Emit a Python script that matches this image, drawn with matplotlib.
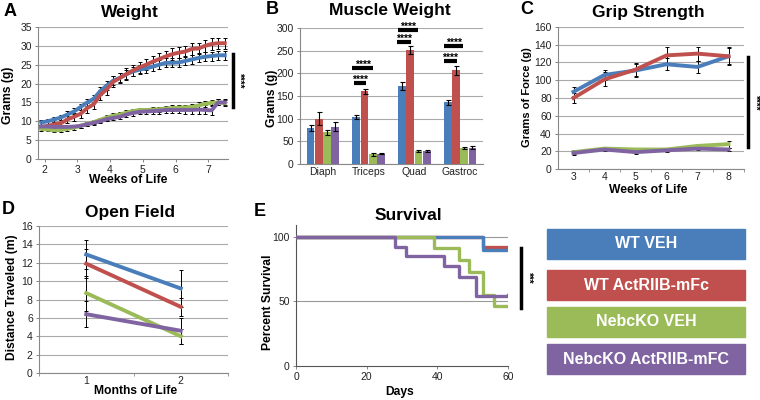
import matplotlib
matplotlib.use("Agg")
import matplotlib.pyplot as plt
import numpy as np
from matplotlib.patches import Rectangle

plt.rcParams['font.family'] = ['Liberation Sans', 'DejaVu Sans']

# ---- data ----
groups = ["WT VEH", "WT ActRIIB-mFc", "NebcKO VEH", "NebcKO ActRIIB-mFC"]
colors = ["#4a7ebb", "#c0504d", "#9bbb59", "#8064a2"]

# A: body weight
weeks = [1.9, 2.1, 2.3, 2.5, 2.7, 2.9, 3.1, 3.3, 3.5, 3.7, 3.9, 4.1, 4.3, 4.5, 4.7,
         4.9, 5.1, 5.3, 5.5, 5.7, 5.9, 6.1, 6.3, 6.5, 6.7, 6.9, 7.1, 7.3, 7.5]
w_wt_veh = [9.7, 10.0, 10.5, 11.0, 11.8, 12.6, 13.8, 15.0, 16.0, 18.0, 19.5, 20.8, 21.5, 22.5, 23.2,
            23.7, 24.0, 24.5, 25.0, 25.5, 25.5, 25.6, 26.0, 26.4, 26.8, 27.1, 27.3, 27.5, 27.5]
w_wt_act = [8.5, 8.8, 9.2, 9.5, 10.5, 11.2, 12.0, 13.5, 14.5, 17.0, 18.5, 20.5, 21.5, 22.5, 23.5,
            24.3, 25.0, 25.8, 26.5, 27.2, 27.8, 28.2, 28.5, 29.2, 29.3, 30.0, 30.5, 30.7, 30.7]
w_ko_veh = [8.0, 7.8, 7.6, 7.7, 8.0, 8.3, 8.8, 9.3, 9.8, 10.4, 11.0, 11.5, 11.8, 12.3, 12.7,
            13.0, 13.0, 13.1, 13.2, 13.4, 13.5, 13.6, 13.7, 13.8, 14.2, 14.6, 14.9, 15.0, 14.8]
w_ko_act = [8.6, 8.6, 8.5, 8.5, 8.5, 8.6, 8.8, 9.2, 9.6, 10.0, 10.6, 10.9, 11.2, 11.8, 12.2,
            12.5, 12.6, 12.7, 12.8, 13.0, 13.0, 13.0, 13.0, 13.0, 13.1, 13.0, 12.9, 15.0, 15.0]
e_wt_veh = [0.6, 0.6, 0.7, 0.7, 0.8, 0.8, 0.9, 1.0, 1.0, 1.1, 1.1, 1.1, 1.2, 1.2, 1.2,
            1.2, 1.2, 1.2, 1.2, 1.2, 1.2, 1.2, 1.2, 1.2, 1.2, 1.2, 1.2, 1.2, 1.2]
e_wt_act = [0.6, 0.6, 0.7, 0.8, 0.9, 1.0, 1.1, 1.3, 1.3, 1.4, 1.4, 1.4, 1.4, 1.5, 1.5,
            1.5, 1.5, 1.5, 1.5, 1.5, 1.5, 1.5, 1.5, 1.5, 1.5, 1.5, 1.5, 1.5, 1.5]
e_ko_veh = [0.5, 0.5, 0.5, 0.5, 0.5, 0.5, 0.5, 0.5, 0.5, 0.5, 0.6, 0.6, 0.6, 0.6, 0.6,
            0.6, 0.6, 0.7, 0.7, 0.7, 0.7, 0.7, 0.7, 0.7, 0.8, 0.8, 0.8, 0.8, 0.8]
e_ko_act = [0.5, 0.5, 0.5, 0.5, 0.5, 0.5, 0.5, 0.5, 0.5, 0.5, 0.6, 0.6, 0.6, 0.6, 0.7,
            0.7, 0.7, 0.8, 0.8, 0.9, 0.9, 0.9, 1.0, 1.0, 1.1, 1.2, 1.3, 0.8, 0.8]

# B: muscle weight
muscles = ["Diaph", "Triceps", "Quad", "Gastroc"]
m_vals = [[80, 104, 172, 136],
          [100, 160, 252, 207],
          [70, 21, 28, 35],
          [82, 23, 28, 36]]
m_errs = [[7, 4, 8, 5],
          [14, 6, 9, 10],
          [6, 3, 2, 2],
          [10, 2, 2, 3]]

# C: grip strength
grip_weeks = [3, 4, 5, 6, 7, 8]
g_vals = [[87, 106, 111, 118, 115, 127],
          [80, 101, 112, 128, 130, 127],
          [19, 23, 22, 22, 26, 28],
          [18, 22, 19, 21, 23, 22]]
g_errs = [[5, 6, 7, 7, 7, 9],
          [6, 8, 7, 10, 8, 10],
          [2, 2, 2, 2, 2, 4],
          [2, 2, 2, 2, 2, 2]]

# D: open field
months = [1, 2]
of_vals = [[12.9, 9.2], [11.9, 7.2], [8.7, 4.0], [6.4, 4.6]]
of_errs = [[1.6, 2.0], [1.6, 1.0], [1.9, 0.8], [1.4, 1.4]]

# E: survival (step at day -> percent)
surv_days = [[0, 53, 60],
             [0, 53, 60],
             [0, 39, 46, 49, 53, 56, 60],
             [0, 28, 31, 42, 46, 51, 60]]
surv_pct = [[100, 90, 90],
            [100, 92, 92],
            [100, 91, 82, 73, 55, 46, 46],
            [100, 92, 85, 77, 69, 54, 55]]

# ---- layout ----
W, H = 760, 400
fig = plt.figure(figsize=(7.6, 4.0), dpi=100)


def add_ax(l, t, r, b):
    return fig.add_axes([l / W, 1 - b / H, (r - l) / W, (b - t) / H])


def ftext(x, y, s, **kw):
    fig.text(x / W, 1 - y / H, s, **kw)


def style(ax, grid=True):
    for s in ["top", "right"]:
        ax.spines[s].set_visible(False)
    for s in ["left", "bottom"]:
        ax.spines[s].set_color("#888888")
        ax.spines[s].set_linewidth(0.8)
    ax.tick_params(labelsize=7.5, colors="#888888", labelcolor="#222222",
                   length=2.5, width=0.7, pad=2)
    if grid:
        ax.yaxis.grid(True, color="#aaaaaa", linewidth=0.8)
        ax.set_axisbelow(True)


TFS = 12.5
LFS = 8.7

# A
axA = add_ax(38, 27, 228, 159)
style(axA)
ys = [w_wt_veh, w_wt_act, w_ko_veh, w_ko_act]
es = [e_wt_veh, e_wt_act, e_ko_veh, e_ko_act]
for y, e, c in zip(ys, es, colors):
    axA.errorbar(weeks, y, yerr=e, color=c, lw=2.8, ecolor="black",
                 elinewidth=0.7, capsize=1.3, capthick=0.7, zorder=3)
axA.set_xlim(1.8, 7.6)
axA.set_ylim(0, 35)
axA.set_yticks(range(0, 36, 5))
axA.set_xticks([2, 3, 4, 5, 6, 7])
axA.plot([1.026, 1.026], [27.8, 13.8], color="black", lw=2.5,
         transform=axA.get_yaxis_transform(), clip_on=False)
axA.text(1.06, 20.8, "****", rotation=-90, fontsize=7, fontweight="bold",
         ha="center", va="center", transform=axA.get_yaxis_transform())
ftext(10, 12, "A", fontsize=13, fontweight="bold", ha="center", va="center")
ftext(130, 12, "Weight", fontsize=TFS, fontweight="bold", ha="center", va="center")
ftext(128, 180, "Weeks of Life", fontsize=LFS, fontweight="bold", ha="center", va="center")
ftext(8, 95, "Grams (g)", fontsize=LFS, fontweight="bold", ha="center", va="center", rotation=90)

# B
axB = add_ax(300, 28, 483, 164)
style(axB)
x = np.arange(len(muscles))
bw = 0.17
for i, (v, e, c) in enumerate(zip(m_vals, m_errs, colors)):
    axB.bar(x + (i - 1.5) * 0.18, v, bw, yerr=e, color=c, ecolor="black",
            error_kw=dict(elinewidth=0.8, capsize=1.8, capthick=0.8), zorder=3)
axB.set_xlim(-0.5, 3.5)
axB.set_ylim(0, 300)
axB.set_yticks(range(0, 301, 50))
axB.set_xticks(x)
axB.set_xticklabels(muscles)
axB.tick_params(axis="x", length=0)
sig_bars = [(0.67, 0.94, 178, 190), (0.645, 1.105, 212, 223),
            (1.62, 1.93, 270, 282), (1.65, 2.08, 296, 308),
            (2.64, 2.93, 227, 239), (2.65, 3.07, 260, 272)]
for x0, x1, yb, yt in sig_bars:
    axB.plot([x0, x1], [yb, yb], color="black", lw=3, solid_capstyle="butt",
             clip_on=False, zorder=4)
    axB.text((x0 + x1) / 2, yt - 5, "****",
             fontsize=7.5, fontweight="bold", ha="center", va="center")
ftext(272, 10, "B", fontsize=13, fontweight="bold", ha="center", va="center")
ftext(390, 10, "Muscle Weight", fontsize=TFS, fontweight="bold", ha="center", va="center")
ftext(272, 98, "Grams (g)", fontsize=LFS, fontweight="bold", ha="center", va="center", rotation=90)

# C
axC = add_ax(558, 27, 744, 169)
style(axC)
for v, e, c in zip(g_vals, g_errs, colors):
    axC.errorbar(grip_weeks, v, yerr=e, color=c, lw=2.8, ecolor="black",
                 elinewidth=0.7, capsize=1.3, capthick=0.7, zorder=3)
axC.set_xlim(2.5, 8.5)
axC.set_ylim(0, 160)
axC.set_yticks(range(0, 161, 20))
axC.set_xticks(grip_weeks)
axC.set_xticks([3.5, 4.5, 5.5, 6.5, 7.5, 8.5], minor=True)
axC.tick_params(axis="x", which="major", length=0)
axC.tick_params(axis="x", which="minor", length=2.5, color="#888888")
axC.plot([1.02, 1.02], [126, 25], color="black", lw=2.5,
         transform=axC.get_yaxis_transform(), clip_on=False)
axC.text(1.06, 75, "****", rotation=-90, fontsize=7, fontweight="bold",
         ha="center", va="center", transform=axC.get_yaxis_transform())
ftext(527, 10, "C", fontsize=13, fontweight="bold", ha="center", va="center")
ftext(648, 12, "Grip Strength", fontsize=TFS, fontweight="bold", ha="center", va="center")
ftext(648, 190, "Weeks of Life", fontsize=LFS, fontweight="bold", ha="center", va="center")
ftext(527, 97, "Grams of Force (g)", fontsize=8.0, fontweight="bold", ha="center", va="center", rotation=90)

# D
axD = add_ax(39, 226, 228, 373)
style(axD)
for v, e, c in zip(of_vals, of_errs, colors):
    axD.errorbar(months, v, yerr=e, color=c, lw=2.8, ecolor="black",
                 elinewidth=0.7, capsize=1.5, capthick=0.7, zorder=3)
axD.set_xlim(0.5, 2.5)
axD.set_ylim(0, 16)
axD.set_yticks(range(0, 17, 2))
axD.set_xticks(months)
axD.set_xticks([0.5, 1.5, 2.5], minor=True)
axD.tick_params(axis="x", which="major", length=0)
axD.tick_params(axis="x", which="minor", length=2.5, color="#888888")
ftext(8, 210, "D", fontsize=13, fontweight="bold", ha="center", va="center")
ftext(130, 213, "Open Field", fontsize=TFS, fontweight="bold", ha="center", va="center")
ftext(136, 391, "Months of Life", fontsize=LFS, fontweight="bold", ha="center", va="center")
ftext(12, 297, "Distance Traveled (m)", fontsize=LFS, fontweight="bold", ha="center", va="center", rotation=90)

# E
axE = add_ax(296, 225, 508, 366)
style(axE, grid=False)
axE.spines["left"].set_color("#555555")
axE.spines["bottom"].set_color("#555555")
for yv in [50, 100]:
    axE.axhline(yv, color="#999999", lw=0.8, zorder=1)
order = [1, 0, 2, 3]
for i in order:
    axE.step(surv_days[i], surv_pct[i], where="post", color=colors[i], lw=2.4, zorder=3)
axE.set_xlim(0, 60)
axE.set_ylim(0, 109)
axE.set_yticks([0, 50, 100])
axE.set_xticks([0, 20, 40, 60])
axE.plot([1.061, 1.061], [91.5, 45], color="black", lw=2.5,
         transform=axE.get_yaxis_transform(), clip_on=False)
axE.text(1.094, 68, "***", rotation=-90, fontsize=7, fontweight="bold",
         ha="center", va="center", transform=axE.get_yaxis_transform())
ftext(260, 212, "E", fontsize=13, fontweight="bold", ha="center", va="center")
ftext(408, 215, "Survival", fontsize=TFS, fontweight="bold", ha="center", va="center")
ftext(400, 392, "Days", fontsize=LFS, fontweight="bold", ha="center", va="center")
ftext(268, 302, "Percent Survival", fontsize=LFS, fontweight="bold", ha="center", va="center", rotation=90)

# legend boxes
box_tops = [229, 270, 307, 344]
for t, g, c in zip(box_tops, groups, colors):
    fig.patches.append(Rectangle((547 / W, 1 - (t + 30) / H), 198 / W, 30 / H,
                                 transform=fig.transFigure, color=c))
    ftext(646, t + 15, g, fontsize=11.5, fontweight="bold", color="white",
          ha="center", va="center")

fig.savefig("out.png", dpi=100)
